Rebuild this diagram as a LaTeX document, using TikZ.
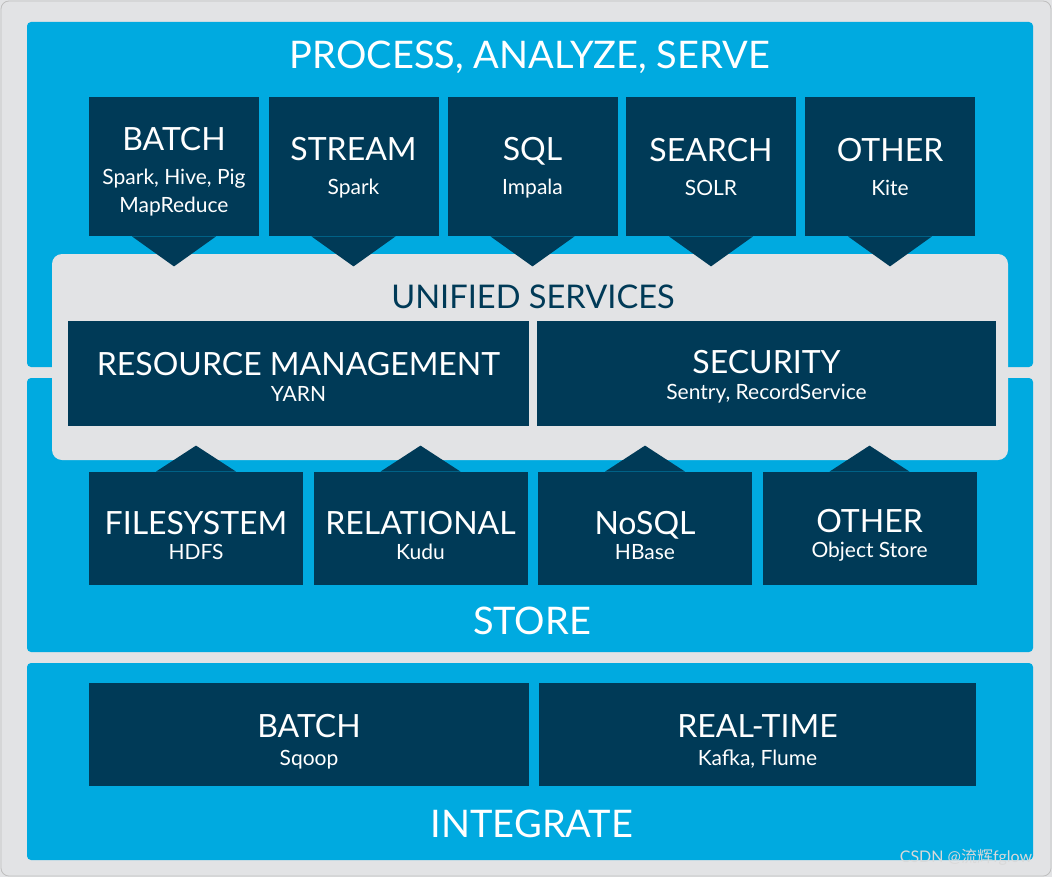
\documentclass[tikz,border=0pt]{standalone}
\usepackage{fontspec}
\setmainfont{Lato}
\newfontfamily\cjk{Noto Sans CJK SC}

\definecolor{cblue}{RGB}{0,170,224}
\definecolor{cnavy}{RGB}{0,58,87}
\definecolor{cgray}{RGB}{226,227,229}

\tikzset{
  panel/.style={fill=cblue, rounded corners=2pt},
  tile/.style={fill=cnavy, text=white, align=center, inner sep=0pt,
    font=\fontsize{10.5}{14}\selectfont},
  heading/.style={text=white, font=\fontsize{19}{21}\selectfont},
}
\newcommand\tiletitle[2][0pt]{{\fontsize{16}{18}\selectfont\rule{0pt}{\dimexpr 11.5pt+#1\relax}#2}}

\begin{document}
\begin{tikzpicture}[x=0.5pt, y=-0.5pt]
\useasboundingbox (0,0) rectangle (1052,877);
\fill[cgray] (0,0) rectangle (1052,877);
\draw[black!25, rounded corners=4pt] (1,1) rectangle (1051,876);

% three blue layers
\fill[panel] (27,22) rectangle (1033,367);
\fill[panel] (27,378) rectangle (1033,652);
\fill[panel] (27,663) rectangle (1033,860);

% unified services band
\fill[cgray, rounded corners=5pt] (52,254) rectangle (1008,460);

% process, analyze, serve
\node[heading] (pas) at (530,57) {PROCESS, ANALYZE, SERVE};
\node[tile, minimum width=85pt, minimum height=69.5pt] (batch) at (174,166.5)
  {\tiletitle[5pt]{BATCH}\\[3pt]Spark, Hive, Pig\\MapReduce};
\node[tile, minimum width=85pt, minimum height=69.5pt] (stream) at (353.5,166.5)
  {\tiletitle[1pt]{STREAM}\\[3pt]Spark};
\node[tile, minimum width=85pt, minimum height=69.5pt] (sql) at (532.5,166.5)
  {\tiletitle[1pt]{SQL}\\[3pt]Impala};
\node[tile, minimum width=85pt, minimum height=69.5pt] (search) at (711,166.5)
  {\tiletitle[1pt]{SEARCH}\\[3pt]SOLR};
\node[tile, minimum width=85pt, minimum height=69.5pt] (other) at (890,166.5)
  {\tiletitle[1pt]{OTHER}\\[3pt]Kite};

\fill[cnavy] (batch.south) ++(-42,0) -- ++(84,0) -- ++(-42,30) -- cycle;
\fill[cnavy] (stream.south) ++(-42,0) -- ++(84,0) -- ++(-42,30) -- cycle;
\fill[cnavy] (sql.south) ++(-42,0) -- ++(84,0) -- ++(-42,30) -- cycle;
\fill[cnavy] (search.south) ++(-42,0) -- ++(84,0) -- ++(-42,30) -- cycle;
\fill[cnavy] (other.south) ++(-42,0) -- ++(84,0) -- ++(-42,30) -- cycle;

% unified services
\node[text=cnavy, font=\fontsize{16.3}{18}\selectfont] (unified) at (533,297) {UNIFIED SERVICES};
\node[tile, minimum width=230.5pt, minimum height=52.5pt] (yarn) at (298.5,373.5)
  {\tiletitle[3pt]{RESOURCE MANAGEMENT}\\[-1pt]YARN};
\node[tile, minimum width=229.5pt, minimum height=52.5pt] (security) at (766.5,373.5)
  {\tiletitle[3pt]{SECURITY}\\[-1pt]Sentry, RecordService};

% store
\node[tile, minimum width=107pt, minimum height=56.5pt] (hdfs) at (196,528.5)
  {\tiletitle[7pt]{FILESYSTEM}\\[-1.5pt]HDFS};
\node[tile, minimum width=107pt, minimum height=56.5pt] (kudu) at (420.5,528.5)
  {\tiletitle[7pt]{RELATIONAL}\\[-1.5pt]Kudu};
\node[tile, minimum width=107pt, minimum height=56.5pt] (hbase) at (645,528.5)
  {\tiletitle[7pt]{NoSQL}\\[-1.5pt]HBase};
\node[tile, minimum width=107pt, minimum height=56.5pt] (objstore) at (869.5,528.5)
  {\tiletitle[7pt]{OTHER}\\[-1.5pt]Object Store};

\fill[cnavy] (hdfs.north) ++(-40,0) -- ++(80,0) -- ++(-40,-26) -- cycle;
\fill[cnavy] (kudu.north) ++(-40,0) -- ++(80,0) -- ++(-40,-26) -- cycle;
\fill[cnavy] (hbase.north) ++(-40,0) -- ++(80,0) -- ++(-40,-26) -- cycle;
\fill[cnavy] (objstore.north) ++(-40,0) -- ++(80,0) -- ++(-40,-26) -- cycle;

\node[heading] (store) at (532,621) {STORE};

% integrate
\node[tile, minimum width=220pt, minimum height=51.5pt] (sqoop) at (309,734.5)
  {\tiletitle[7pt]{BATCH}\\Sqoop};
\node[tile, minimum width=218.5pt, minimum height=51.5pt] (kafka) at (757.5,734.5)
  {\tiletitle[7pt]{REAL-TIME}\\Kafka, Flume};

\node[heading] (integrate) at (532,824) {INTEGRATE};

\node[text=white!85!black, font=\fontsize{8}{9}\selectfont] (mark) at (966,857) {CSDN @{\cjk 流辉}fglow};
\end{tikzpicture}
\end{document}
